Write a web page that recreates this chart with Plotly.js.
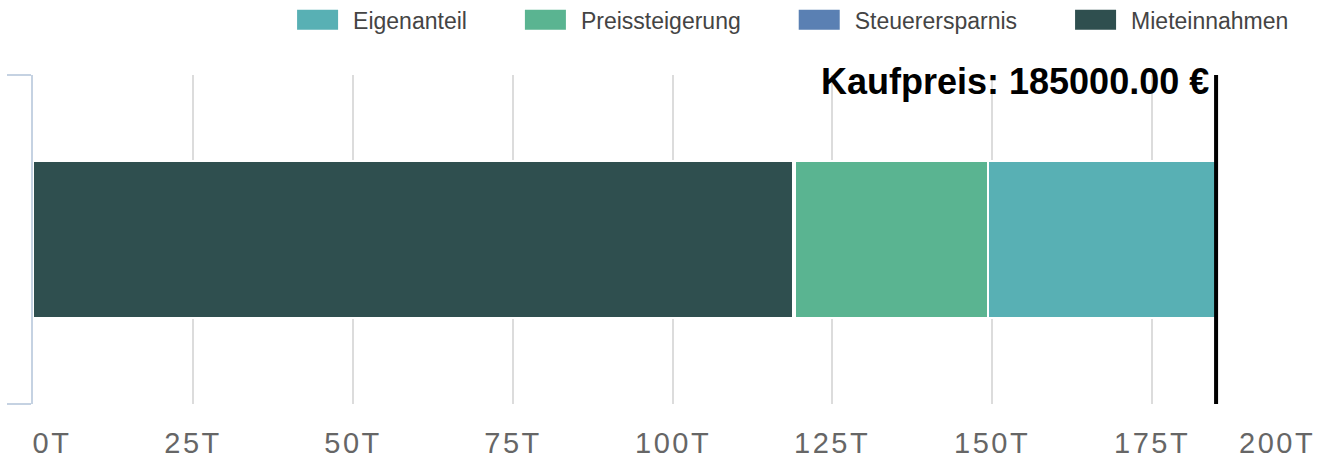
<!DOCTYPE html>
<html><head><meta charset="utf-8">
<script src="https://cdn.plot.ly/plotly-3.0.1.min.js"></script>
<style>
body{margin:0;background:#fff}
#chart{width:1330px;height:461px}
.legend .legendpoints path{d:path("M40.5,11H-2.5V-11H40.5Z")}
.annotation:not([data-index="0"]) .annotation-text{letter-spacing:2.5px}
</style></head><body><div id="chart"></div>
<script>
const category = ['Kaufpreis'];
const seriesNames = ['Mieteinnahmen', 'Steuerersparnis', 'Preissteigerung', 'Eigenanteil'];
const mieteinnahmen = [118800];
const steuerersparnis = [300];
const preissteigerung = [30200];
const eigenanteil = [35700];
const kaufpreis = 185000;
const tickValues = [0, 25000, 50000, 75000, 100000, 125000, 150000, 175000, 200000];
const tickLabels = ['0T', '25T', '50T', '75T', '100T', '125T', '150T', '175T', '200T'];

const colors = ['#2f4f4f', '#5a80b3', '#5ab491', '#58b0b4'];
const values = [mieteinnahmen, steuerersparnis, preissteigerung, eigenanteil];

const traces = seriesNames.map((name, i) => ({
  type: 'bar', orientation: 'h', name: name,
  x: values[i], y: category,
  marker: {color: colors[i], line: {color: '#ffffff', width: 2}},
  hoverinfo: 'skip'
}));

const annotations = [{
  x: kaufpreis, xref: 'x', y: 1, yref: 'paper',
  xanchor: 'right', yanchor: 'middle', xshift: -5, yshift: -6,
  text: '<b>Kaufpreis: ' + kaufpreis.toFixed(2) + ' €</b>',
  showarrow: false,
  font: {family: 'Liberation Sans, Arial, sans-serif', size: 36, color: '#000000'}
}];
tickValues.forEach((v, i) => {
  annotations.push({
    x: v, xref: 'x', y: 0, yref: 'paper',
    xanchor: i === 0 ? 'left' : (i === tickValues.length - 1 ? 'right' : 'center'),
    yanchor: 'middle', yshift: -39,
    text: tickLabels[i], showarrow: false,
    font: {family: 'Liberation Sans, Arial, sans-serif', size: 29, color: '#666666'}
  });
});

const layout = {
  width: 1330, height: 461,
  margin: {l: 33, r: 18, t: 75, b: 57},
  paper_bgcolor: '#ffffff', plot_bgcolor: '#ffffff',
  barmode: 'stack', bargap: 0.52,
  showlegend: true,
  legend: {
    orientation: 'h', traceorder: 'reversed',
    xref: 'container', yref: 'container',
    x: 0.973, xanchor: 'right', y: 0.957, yanchor: 'middle',
    itemwidth: 99,
    font: {family: 'Liberation Sans, Arial, sans-serif', size: 23, color: '#444444'}
  },
  xaxis: {
    range: [0, 200000], tickvals: tickValues, ticktext: tickLabels,
    showticklabels: false, showgrid: true, gridcolor: '#dcdcdc', gridwidth: 2,
    zeroline: false, showline: false, ticks: ''
  },
  yaxis: {
    type: 'category', showticklabels: false, showgrid: false, zeroline: false,
    showline: true, linecolor: '#c5d2e2', linewidth: 2,
    ticks: 'outside', tickson: 'boundaries', ticklen: 24, tickwidth: 2, tickcolor: '#c5d2e2'
  },
  shapes: [{
    type: 'line', xref: 'x', yref: 'paper', x0: kaufpreis, x1: kaufpreis, y0: 0, y1: 1,
    line: {color: '#000000', width: 4}, layer: 'above'
  }],
  annotations: annotations
};

Plotly.newPlot('chart', traces, layout, {displayModeBar: false, staticPlot: true});
</script></body></html>
